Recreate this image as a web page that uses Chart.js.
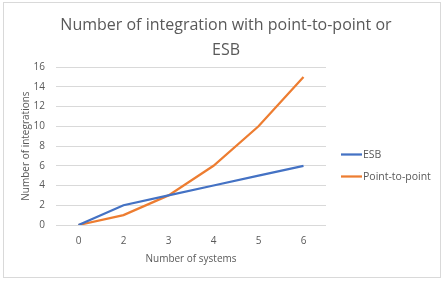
<!DOCTYPE html>
<html>
<head>
<meta charset="utf-8">
<script src="https://cdn.jsdelivr.net/npm/chart.js@4/dist/chart.umd.min.js"></script>
<style>
  html, body { margin: 0; padding: 0; background: #ffffff; }
  #wrap { position: absolute; left: 3px; top: 2px; width: 436px; height: 274px; border: 1px solid #d9d9d9; background: #fff; }
  canvas { display: block; }
</style>
</head>
<body>
<div id="wrap"><canvas id="c" width="436" height="274"></canvas></div>
<script>
const titleLines = ['Number of integration with point-to-point or', 'ESB'];
const xTitle = 'Number of systems';
const yTitle = 'Number of integrations';
const categories = ['0', '2', '3', '4', '5', '6'];
const esbValues = [0, 2, 3, 4, 5, 6];
const p2pValues = [0, 1, 3, 6, 10, 15];
const seriesNames = ['ESB', 'Point-to-point'];

const textColor = '#595959';
const fontFamily = '"Open Sans", "Liberation Sans", sans-serif';

// Legend drawn at the right, Excel-style (line sample followed by the label)
const sideLegend = {
  id: 'sideLegend',
  afterDraw(chart) {
    const ctx = chart.ctx;
    const x0 = chart.chartArea.right + 15;
    const y0 = 151.5;
    const gap = 22;
    ctx.save();
    ctx.font = '10.5px ' + fontFamily;
    ctx.textBaseline = 'middle';
    ctx.textAlign = 'left';
    chart.data.datasets.forEach((ds, i) => {
      const y = y0 + i * gap;
      ctx.strokeStyle = ds.borderColor;
      ctx.lineWidth = 2.25;
      ctx.beginPath();
      ctx.moveTo(x0, y);
      ctx.lineTo(x0 + 21, y);
      ctx.stroke();
      ctx.fillStyle = textColor;
      ctx.fillText(ds.label, x0 + 22, y + 0.5);
    });
    ctx.restore();
  }
};

new Chart(document.getElementById('c'), {
  type: 'line',
  data: {
    labels: categories,
    datasets: [
      { label: seriesNames[0], data: esbValues, borderColor: '#4472C4', backgroundColor: '#4472C4', borderWidth: 2.25, pointRadius: 0, tension: 0 },
      { label: seriesNames[1], data: p2pValues, borderColor: '#ED7D31', backgroundColor: '#ED7D31', borderWidth: 2.25, pointRadius: 0, tension: 0 }
    ]
  },
  plugins: [sideLegend],
  options: {
    responsive: false,
    animation: false,
    layout: { padding: { left: 12, right: 4, top: 4, bottom: 8 } },
    plugins: {
      title: {
        display: true,
        text: titleLines,
        color: textColor,
        font: { family: fontFamily, size: 16, weight: 'normal', lineHeight: 1.55 },
        padding: { top: 6, bottom: 4.5 }
      },
      legend: { display: false },
      tooltip: { enabled: false }
    },
    scales: {
      x: {
        offset: true,
        grid: { display: false, drawTicks: false },
        border: { display: false },
        ticks: { color: textColor, font: { family: fontFamily, size: 10 }, padding: 10 },
        title: { display: true, text: xTitle, color: textColor, font: { family: fontFamily, size: 10 }, padding: { top: 4 } },
        afterFit(scale) { scale.height = 44; }
      },
      y: {
        min: 0, max: 16,
        grid: { color: '#d9d9d9', drawTicks: false },
        border: { display: false },
        ticks: { stepSize: 2, color: textColor, font: { family: fontFamily, size: 10 }, padding: 11 },
        title: { display: true, text: yTitle, color: textColor, font: { family: fontFamily, size: 10 }, padding: { bottom: 2 } },
        afterFit(scale) { scale.width = 40; }
      },
      legendSpace: {
        type: 'linear',
        position: 'right',
        min: 0, max: 1,
        grid: { display: false, drawTicks: false },
        border: { display: false },
        ticks: { display: false },
        afterFit(scale) { scale.width = 110; }
      }
    }
  }
});
</script>
</body>
</html>
